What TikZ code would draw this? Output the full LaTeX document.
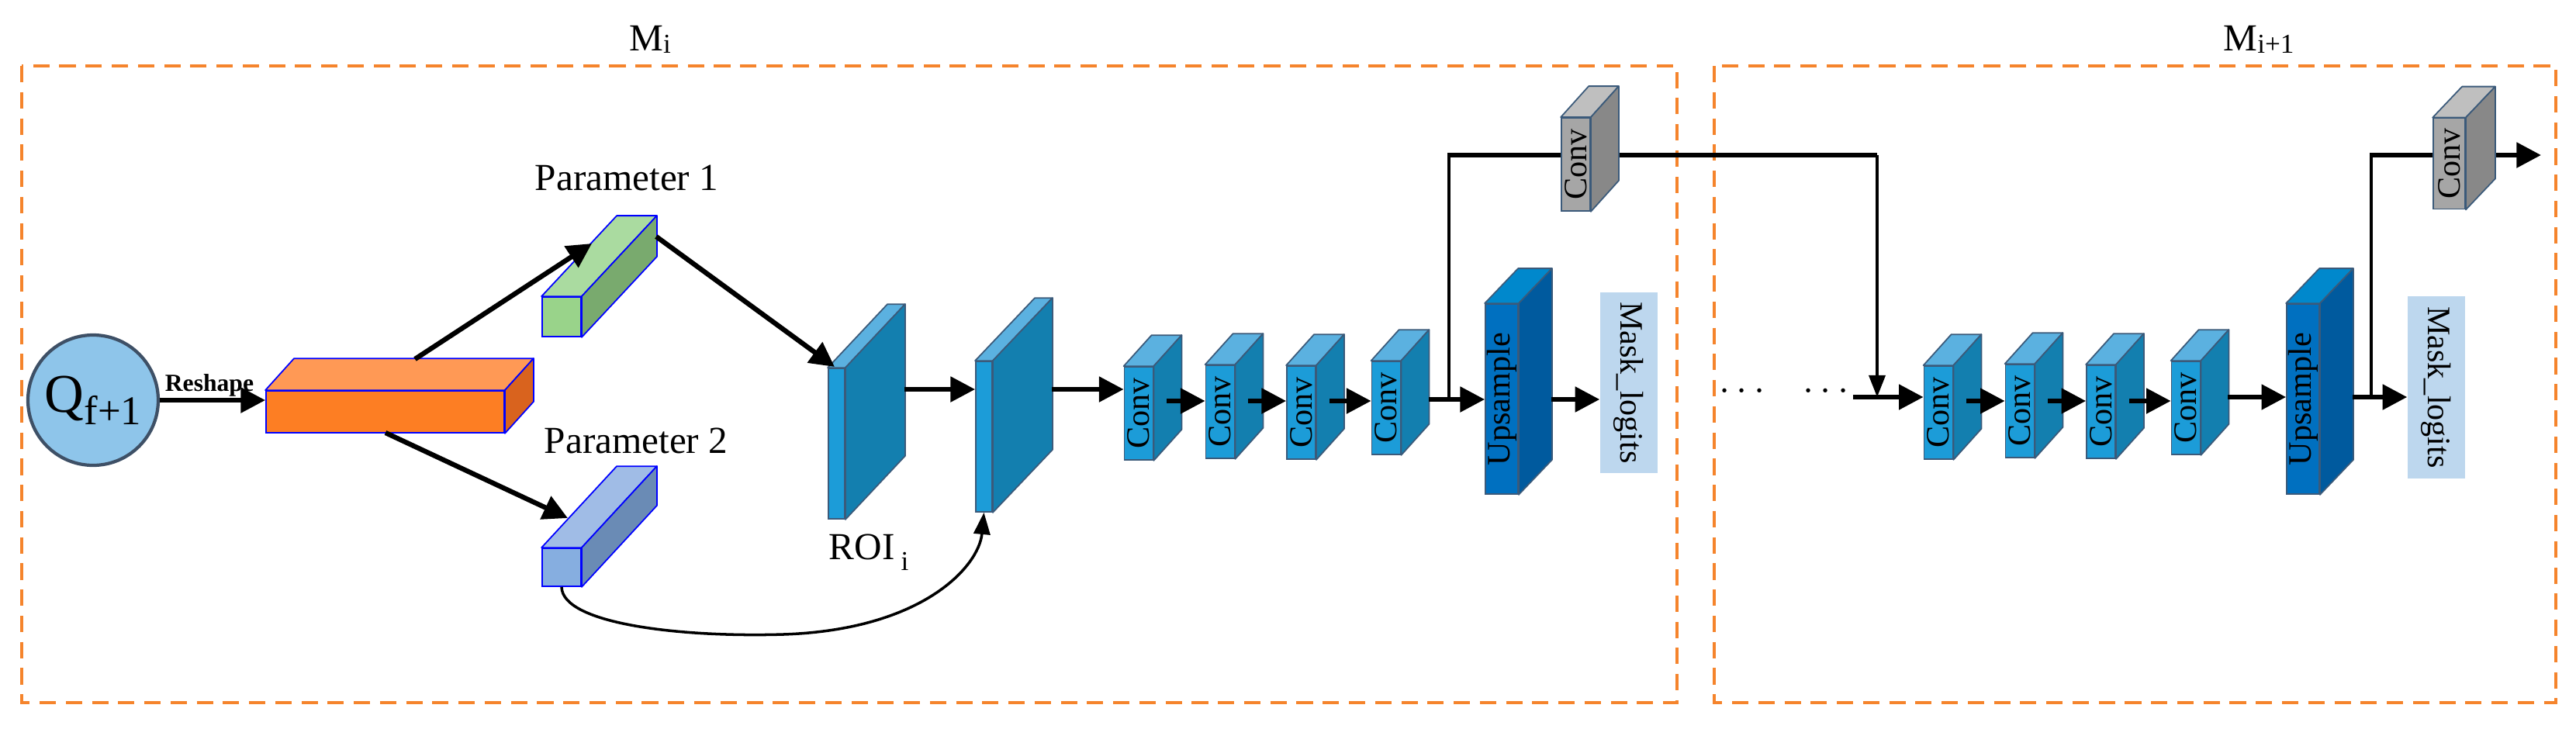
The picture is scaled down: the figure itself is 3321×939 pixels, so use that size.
\documentclass[tikz,border=0pt]{standalone}
\usepackage{fontspec}
\setmainfont{Liberation Serif}
\usetikzlibrary{calc,arrows.meta}
\definecolor{dash}{HTML}{F5842C}
\definecolor{cvF}{HTML}{1C9CD8}\definecolor{cvT}{HTML}{5BB1E0}\definecolor{cvS}{HTML}{137FAF}
\definecolor{upF}{HTML}{0070C0}\definecolor{upT}{HTML}{0088CC}\definecolor{upS}{HTML}{005A9E}
\definecolor{gyF}{HTML}{A6A6A6}\definecolor{gyT}{HTML}{BFBFBF}\definecolor{gyS}{HTML}{888888}
\definecolor{orF}{HTML}{FD7E23}\definecolor{orT}{HTML}{FF9955}\definecolor{orS}{HTML}{D9631E}
\definecolor{grF}{HTML}{99D38A}\definecolor{grT}{HTML}{AADBA0}\definecolor{grS}{HTML}{79AA6E}
\definecolor{blF}{HTML}{86AEE0}\definecolor{blT}{HTML}{A0BCE6}\definecolor{blS}{HTML}{6A8BB5}
\definecolor{edgeC}{HTML}{3B5A7A}
\definecolor{maskC}{HTML}{BDD7EE}
\definecolor{circF}{HTML}{8EC5EA}\definecolor{circD}{HTML}{3E5066}
% name, center, w, h, shift, front, top, side, edge
\newcommand\blk[9]{%
  \node[draw=#9, fill=#6, line width=0.5pt, inner sep=0pt, minimum width=#3*0.01cm, minimum height=#4*0.01cm] (#1) at #2 {};
  \draw[draw=#9, fill=#7, line width=0.5pt, line join=round] (#1.north west) -- ++#5 -- ($(#1.north east)+#5$) -- (#1.north east) -- cycle;
  \draw[draw=#9, fill=#8, line width=0.5pt, line join=round] (#1.north east) -- ++#5 -- ($(#1.south east)+#5$) -- (#1.south east) -- cycle;
}
\tikzset{
  box/.style={draw=dash, line width=0.9pt, dash pattern=on 6pt off 3.6pt},
  arr/.style={line width=1.8pt, -{Triangle[length=9pt,width=9pt]}},
  thinarr/.style={line width=1pt, -{Triangle[length=8pt,width=6pt]}},
  lbl/.style={font=\fontsize{12}{12}\selectfont, inner sep=0pt},
  ttl/.style={font=\fontsize{14}{14}\selectfont, inner sep=0pt},
}
\begin{document}
\begin{tikzpicture}[x=0.01cm,y=-0.01cm]
\useasboundingbox (0,0) rectangle (3321,939);
% frames
\draw[box] (28,85) rectangle (2162,906);
\draw[box] (2210,85) rectangle (3295,906);
\node[ttl] (t1) at (838,51) {M\raisebox{-0.15ex}{\fontsize{10}{10}\selectfont i}};
\node[ttl] (t2) at (2912,51) {M\raisebox{-0.15ex}{\fontsize{10}{10}\selectfont i+1}};
% Q
\node[circle, draw=circD, fill=circF, line width=1.2pt, minimum size=168*0.01cm, inner sep=0pt, font=\fontsize{20}{20}\selectfont] (Q) at (120,516) {Q\raisebox{-0.5ex}{\fontsize{15}{15}\selectfont f+1}};
% blocks
\blk{orange}{(496.5,531)}{307}{54}{(37,-41)}{orF}{orT}{orS}{blue}
\blk{green}{(724,408.5)}{50}{51}{(97,-104)}{grF}{grT}{grS}{blue}
\blk{bluebar}{(724,731.5)}{50}{49}{(97,-105)}{blF}{blT}{blS}{blue}
\blk{roi1}{(1078.5,572)}{21}{194}{(77,-82)}{cvF}{cvT}{cvS}{edgeC}
\blk{roi2}{(1268.5,563)}{21}{194}{(77,-81)}{cvF}{cvT}{cvS}{edgeC}
\blk{ca1}{(1468,533)}{37}{120}{(36,-40)}{cvF}{cvT}{cvS}{edgeC}
\blk{ca2}{(1573,531)}{37}{120}{(36,-40)}{cvF}{cvT}{cvS}{edgeC}
\blk{ca3}{(1677.5,532)}{37}{120}{(36,-40)}{cvF}{cvT}{cvS}{edgeC}
\blk{ca4}{(1787,526)}{37}{120}{(36,-40)}{cvF}{cvT}{cvS}{edgeC}
\blk{up1}{(1936,514.5)}{42}{245}{(43,-45)}{upF}{upT}{upS}{edgeC}
\blk{cb1}{(2499,532)}{37}{120}{(36,-40)}{cvF}{cvT}{cvS}{edgeC}
\blk{cb2}{(2604,530)}{37}{120}{(36,-40)}{cvF}{cvT}{cvS}{edgeC}
\blk{cb3}{(2708.5,531)}{37}{120}{(36,-40)}{cvF}{cvT}{cvS}{edgeC}
\blk{cb4}{(2818,526)}{37}{120}{(36,-40)}{cvF}{cvT}{cvS}{edgeC}
\blk{up2}{(2969,514.5)}{42}{245}{(43,-45)}{upF}{upT}{upS}{edgeC}
\node[fill=maskC, minimum width=74*0.01cm, minimum height=233*0.01cm, inner sep=0pt] (m1) at (2100,493.5) {};
\node[fill=maskC, minimum width=74*0.01cm, minimum height=235*0.01cm, inner sep=0pt] (m2) at (3141,499.5) {};
% skip lines (drawn before grey convs)
\coordinate (j1) at (1868,515);
\coordinate (k1) at (1868,200);
\coordinate (k2) at (2420,200);
\coordinate (k3) at (2420,512);
\draw[line width=1pt] (j1) -- (k1);
\draw[line width=1.8pt] (1866,200) -- (k2);
\draw[thinarr] (k2) -- (k3);
\coordinate (j2) at (3057,512);
\coordinate (k4) at (3057,200);
\coordinate (k5) at (3276,200);
\draw[line width=1pt] (j2) -- (k4);
\draw[arr] (3055,200) -- (k5);
\blk{g1}{(2031.5,212)}{37}{120}{(36,-40)}{gyF}{gyT}{gyS}{edgeC}
\blk{g2}{(3157.5,211)}{41}{117}{(38,-40)}{gyF}{gyT}{gyS}{edgeC}
% rotated texts
\foreach \n in {ca1,ca2,ca3,ca4,cb1,cb2,cb3,cb4,g1,g2}{\node[lbl,rotate=90] (\n t) at (\n) {Conv};}
\node[lbl,rotate=90] (up1t) at (up1) {Upsample};
\node[lbl,rotate=90] (up2t) at (up2) {Upsample};
\node[lbl,rotate=-90] (m1t) at (m1) {Mask\_logits};
\node[lbl,rotate=-90] (m2t) at (m2) {Mask\_logits};
% labels
\node[font=\bfseries\fontsize{9}{9}\selectfont, inner sep=0pt] (rs) at (270,497) {Reshape};
\node[ttl] (p1) at (808,229) {Parameter 1};
\node[ttl] (p2) at (820,568) {Parameter 2};
\node[ttl, anchor=west] (roil) at (1068,712) {ROI\,\raisebox{-0.6ex}{\fontsize{10}{10}\selectfont i}};
\node[font=\bfseries\fontsize{14}{14}\selectfont, inner sep=0pt] (dots) at (2300,505) {$\cdots$\quad$\cdots$};
% arrows
\draw[arr] (Q.east) -- (Q.east -| orange.west);
\coordinate (o1) at (535,463); \coordinate (o2) at (497,558);
\coordinate (gin) at (763,314); \coordinate (bin) at (732,668);
\coordinate (gout) at (846,305); \coordinate (rin) at (1076,473);
\draw[arr] (o1) -- (gin);
\draw[arr] (o2) -- (bin);
\draw[arr] (gout) -- (rin);
\coordinate (r1o) at (1166,502); \coordinate (r2o) at (1356,502);
\draw[arr] (r1o) -- (r1o -| roi2.west);
\draw[arr] (r2o) -- (r2o -| ca1.west);
\draw[arr] (1504,517) -- (1504,517 -| ca2.west);
\draw[arr] (1609,517) -- (1609,517 -| ca3.west);
\draw[arr] (1714,517) -- (1714,517 -| ca4.west);
\draw[arr] (1842,515) -- (1842,515 -| up1.west);
\draw[arr] (2000,515) -- (2000,515 -| m1.west);
\draw[arr] (2389,512) -- (2389,512 -| cb1.west);
\draw[arr] (2535,517) -- (2535,517 -| cb2.west);
\draw[arr] (2640,517) -- (2640,517 -| cb3.west);
\draw[arr] (2745,517) -- (2745,517 -| cb4.west);
\draw[arr] (2872,512) -- (2872,512 -| up2.west);
\draw[arr] (3033,512) -- (3033,512 -| m2.west);
\draw[line width=1pt, -{Triangle[length=8pt,width=6pt]}] (bluebar.south) .. controls (725,805) and (880,822) .. (1010,818) .. controls (1190,812) and (1262,730) .. (roi2.south);
\end{tikzpicture}
\end{document}
